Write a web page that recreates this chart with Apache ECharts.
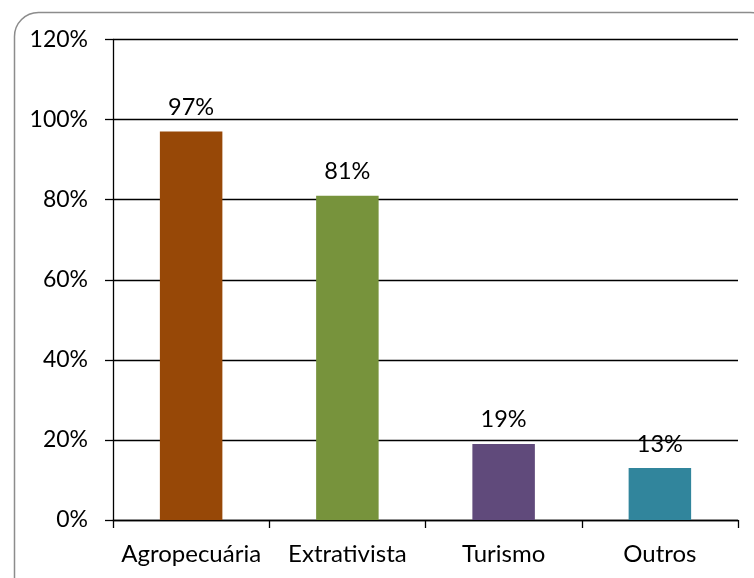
<!DOCTYPE html>
<html><head><meta charset="utf-8">
<script src="https://cdn.jsdelivr.net/npm/echarts@6/dist/echarts.min.js"></script>
<style>html,body{margin:0;padding:0;background:#fff}#c{width:754px;height:578px}</style>
</head><body><div id="c"></div>
<script>
const categories = ['Agropecuária', 'Extrativista', 'Turismo', 'Outros'];
const values = [97, 81, 19, 13];
const colors = ['#974807', '#77933C', '#604A7B', '#31859C'];
const yTicks = [0, 20, 40, 60, 80, 100, 120];

const FONT = 'Lato';
const chart = echarts.init(document.getElementById('c'), null, {renderer: 'canvas'});
chart.setOption({
  animation: false,
  backgroundColor: '#fff',
  graphic: [{
    type: 'rect', left: 12, top: 10,
    shape: {width: 760, height: 590, r: 24},
    style: {fill: 'none', stroke: '#8c8c8c', lineWidth: 1.5}
  }],
  grid: {left: 113, right: 16, top: 39.5, bottom: 58, containLabel: false},
  xAxis: {
    type: 'category', data: categories,
    axisLine: {lineStyle: {color: '#000', width: 1.3}},
    axisTick: {show: true, length: 8, inside: false, alignWithLabel: false, lineStyle: {color: '#000', width: 1.3}},
    axisLabel: {interval: 0, color: '#000', fontFamily: FONT, fontSize: 24, margin: 22}
  },
  yAxis: {
    type: 'value', min: 0, max: 120, interval: 20,
    axisLine: {show: true, lineStyle: {color: '#000', width: 1.3}},
    axisTick: {show: true, length: 8, lineStyle: {color: '#000', width: 1.3}},
    splitLine: {show: true, lineStyle: {color: '#000', width: 1.3}},
    axisLabel: {color: '#000', fontFamily: FONT, fontSize: 23, margin: 25, formatter: v => yTicks.includes(v) ? v + '%' : ''}
  },
  series: [{
    type: 'bar', barWidth: '40%',
    data: values.map((v, i) => ({value: v, itemStyle: {color: colors[i]}})),
    label: {show: true, position: 'top', distance: 12, color: '#000', fontFamily: FONT, fontSize: 23.5, formatter: p => p.value + '%'}
  }]
});
</script></body></html>
